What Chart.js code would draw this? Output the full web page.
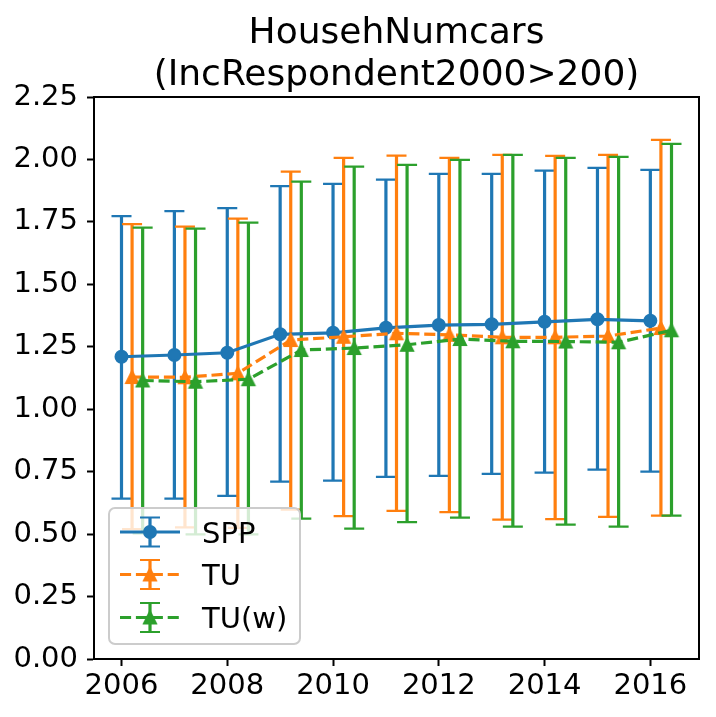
<!DOCTYPE html>
<html><head><meta charset="utf-8">
<script src="https://cdn.jsdelivr.net/npm/chart.js@4.4.1/dist/chart.umd.min.js"></script>
<style>html,body{margin:0;padding:0;background:#fff;overflow:hidden;}</style>
</head><body>
<canvas id="c" width="716" height="717" style="width:716px;height:717px;display:block"></canvas>
<script>
// ---------- data ----------
const years = [2006, 2007, 2008, 2009, 2010, 2011, 2012, 2013, 2014, 2015, 2016];
const seriesLabels = ['SPP', 'TU', 'TU(w)'];

const sppMean = [1.210, 1.217, 1.226, 1.300, 1.306, 1.326, 1.337, 1.340, 1.350, 1.360, 1.354];
const sppHigh = [1.773, 1.793, 1.805, 1.893, 1.902, 1.919, 1.942, 1.942, 1.955, 1.966, 1.958];
const sppLow  = [0.642, 0.642, 0.653, 0.710, 0.714, 0.729, 0.733, 0.741, 0.746, 0.758, 0.750];

const tuMean = [1.129, 1.128, 1.144, 1.277, 1.290, 1.304, 1.298, 1.288, 1.288, 1.293, 1.325];
const tuHigh = [1.741, 1.731, 1.763, 1.951, 2.006, 2.015, 2.006, 2.018, 2.014, 2.018, 2.078];
const tuLow  = [0.520, 0.527, 0.525, 0.598, 0.572, 0.593, 0.588, 0.558, 0.560, 0.569, 0.574];

const tuwMean = [1.115, 1.110, 1.120, 1.237, 1.245, 1.258, 1.281, 1.272, 1.271, 1.268, 1.316];
const tuwHigh = [1.727, 1.723, 1.747, 1.911, 1.971, 1.978, 1.998, 2.018, 2.006, 2.010, 2.062];
const tuwLow  = [0.503, 0.499, 0.499, 0.562, 0.522, 0.548, 0.566, 0.530, 0.538, 0.530, 0.574];

const xTicks = [2006, 2008, 2010, 2012, 2014, 2016];
const yTicks = [0, 0.25, 0.5, 0.75, 1.0, 1.25, 1.5, 1.75, 2.0, 2.25];
const titleLines = ['HousehNumcars', '(IncRespondent2000>200)'];

// ---------- styling ----------
const FONT = 'DejaVu Sans';
const colors = ['#1f77b4', '#ff7f0e', '#2ca02c'];
const xShift = [0, 0.2, 0.4];
const means = [sppMean, tuMean, tuwMean];
const highs = [sppHigh, tuHigh, tuwHigh];
const lows = [sppLow, tuLow, tuwLow];
const dashes = [[], [11.1, 4.8], [11.1, 4.8]];

function triCanvas(color) {
  const c = document.createElement('canvas');
  c.width = 18; c.height = 18;
  const g = c.getContext('2d');
  g.fillStyle = color; g.strokeStyle = color; g.lineWidth = 2; g.lineJoin = 'miter';
  g.beginPath(); g.moveTo(9, 3); g.lineTo(3, 15); g.lineTo(15, 15); g.closePath();
  g.fill(); g.stroke();
  return c;
}
const markers = ['circle', triCanvas(colors[1]), triCanvas(colors[2])];

const datasets = seriesLabels.map((lab, s) => ({
  label: lab,
  data: years.map((yr, i) => ({x: yr + xShift[s], y: means[s][i]})),
  borderColor: colors[s],
  backgroundColor: colors[s],
  borderWidth: 3.2,
  borderDash: dashes[s],
  pointStyle: markers[s],
  pointRadius: 6,
  pointBorderWidth: 2,
  pointBackgroundColor: colors[s],
  pointBorderColor: colors[s],
  tension: 0,
  fill: false,
  order: 3 - s
}));

function drawErrBar(ctx, x, yTop, yBot, color, cap) {
  ctx.save();
  ctx.strokeStyle = color;
  ctx.lineWidth = 3.2;
  ctx.beginPath(); ctx.moveTo(x, yTop); ctx.lineTo(x, yBot); ctx.stroke();
  ctx.lineWidth = 2.2;
  ctx.beginPath();
  ctx.moveTo(x - cap, yBot); ctx.lineTo(x + cap, yBot);
  ctx.moveTo(x - cap, yTop); ctx.lineTo(x + cap, yTop);
  ctx.stroke();
  ctx.restore();
}

const errorBarPlugin = {
  id: 'errorBars',
  beforeDatasetsDraw(chart) {
    const ctx = chart.ctx, xs = chart.scales.x, ys = chart.scales.y;
    seriesLabels.forEach((lab, s) => {
      years.forEach((yr, i) => {
        const px = xs.getPixelForValue(yr + xShift[s]);
        drawErrBar(ctx, px, ys.getPixelForValue(highs[s][i]), ys.getPixelForValue(lows[s][i]), colors[s], 10);
      });
    });
  },
  afterDraw(chart) {
    const ctx = chart.ctx, a = chart.chartArea;
    // top and right spines
    ctx.save();
    ctx.strokeStyle = '#000'; ctx.lineWidth = 2;
    ctx.beginPath();
    ctx.moveTo(a.left - 1, a.top); ctx.lineTo(a.right, a.top); ctx.lineTo(a.right, a.bottom + 1);
    ctx.stroke();
    ctx.restore();

    // legend
    const L = a.left + 15, B = a.bottom - 15, W = 191, H = 136;
    const T = B - H;
    ctx.save();
    ctx.beginPath();
    ctx.roundRect(L, T, W, H, 6);
    ctx.fillStyle = 'rgba(255,255,255,0.8)';
    ctx.fill();
    ctx.strokeStyle = '#cccccc'; ctx.lineWidth = 2;
    ctx.stroke();
    const rowY = [T + 24, T + 66.5, T + 109.5];
    seriesLabels.forEach((lab, s) => {
      const cy = rowY[s], hx0 = L + 11, hx1 = L + 71, cx = (hx0 + hx1) / 2;
      ctx.save();
      ctx.strokeStyle = colors[s]; ctx.lineWidth = 3.2; ctx.setLineDash(dashes[s]);
      ctx.beginPath(); ctx.moveTo(hx0, cy); ctx.lineTo(hx1, cy); ctx.stroke();
      ctx.restore();
      drawErrBar(ctx, cx, cy - 14.5, cy + 14.5, colors[s], 10);
      if (s === 0) {
        ctx.beginPath(); ctx.arc(cx, cy, 6, 0, Math.PI * 2);
        ctx.fillStyle = colors[s]; ctx.fill();
        ctx.lineWidth = 2; ctx.strokeStyle = colors[s]; ctx.stroke();
      } else {
        ctx.drawImage(markers[s], cx - 9, cy - 9);
      }
      ctx.fillStyle = '#000';
      ctx.font = '29px "' + FONT + '"';
      ctx.textBaseline = 'alphabetic';
      ctx.textAlign = 'left';
      ctx.fillText(lab, L + 93, cy + 10.5);
    });
    ctx.restore();
  }
};

new Chart(document.getElementById('c'), {
  type: 'line',
  data: {datasets},
  plugins: [errorBarPlugin],
  options: {
    responsive: false,
    animation: false,
    events: [],
    layout: {padding: {left: 0, right: 17, top: 0, bottom: 0}},
    plugins: {
      legend: {display: false},
      tooltip: {enabled: false},
      title: {
        display: true,
        text: titleLines,
        fullSize: false,
        color: '#000',
        font: {family: FONT, size: 36, weight: 'normal', lineHeight: '42px'},
        padding: {top: 13, bottom: 0}
      }
    },
    scales: {
      x: {
        type: 'linear',
        min: 2005.48, max: 2016.92,
        afterBuildTicks: s => { s.ticks = xTicks.map(v => ({value: v})); },
        afterFit: s => { s.height = 58; },
        ticks: {callback: v => String(v), font: {family: FONT, size: 29}, color: '#000',
                padding: 3, maxRotation: 0, autoSkip: false},
        grid: {drawOnChartArea: false, drawTicks: true, tickLength: 7, tickWidth: 2, tickColor: '#000'},
        border: {display: true, color: '#000', width: 2}
      },
      y: {
        min: 0, max: 2.25,
        afterBuildTicks: s => { s.ticks = yTicks.map(v => ({value: v})); },
        afterFit: s => { s.width = 94; },
        ticks: {callback: v => Number(v).toFixed(2), font: {family: FONT, size: 29}, color: '#000',
                padding: 9, autoSkip: false},
        grid: {drawOnChartArea: false, drawTicks: true, tickLength: 7, tickWidth: 2, tickColor: '#000'},
        border: {display: true, color: '#000', width: 2}
      }
    }
  }
});
</script>
</body></html>
